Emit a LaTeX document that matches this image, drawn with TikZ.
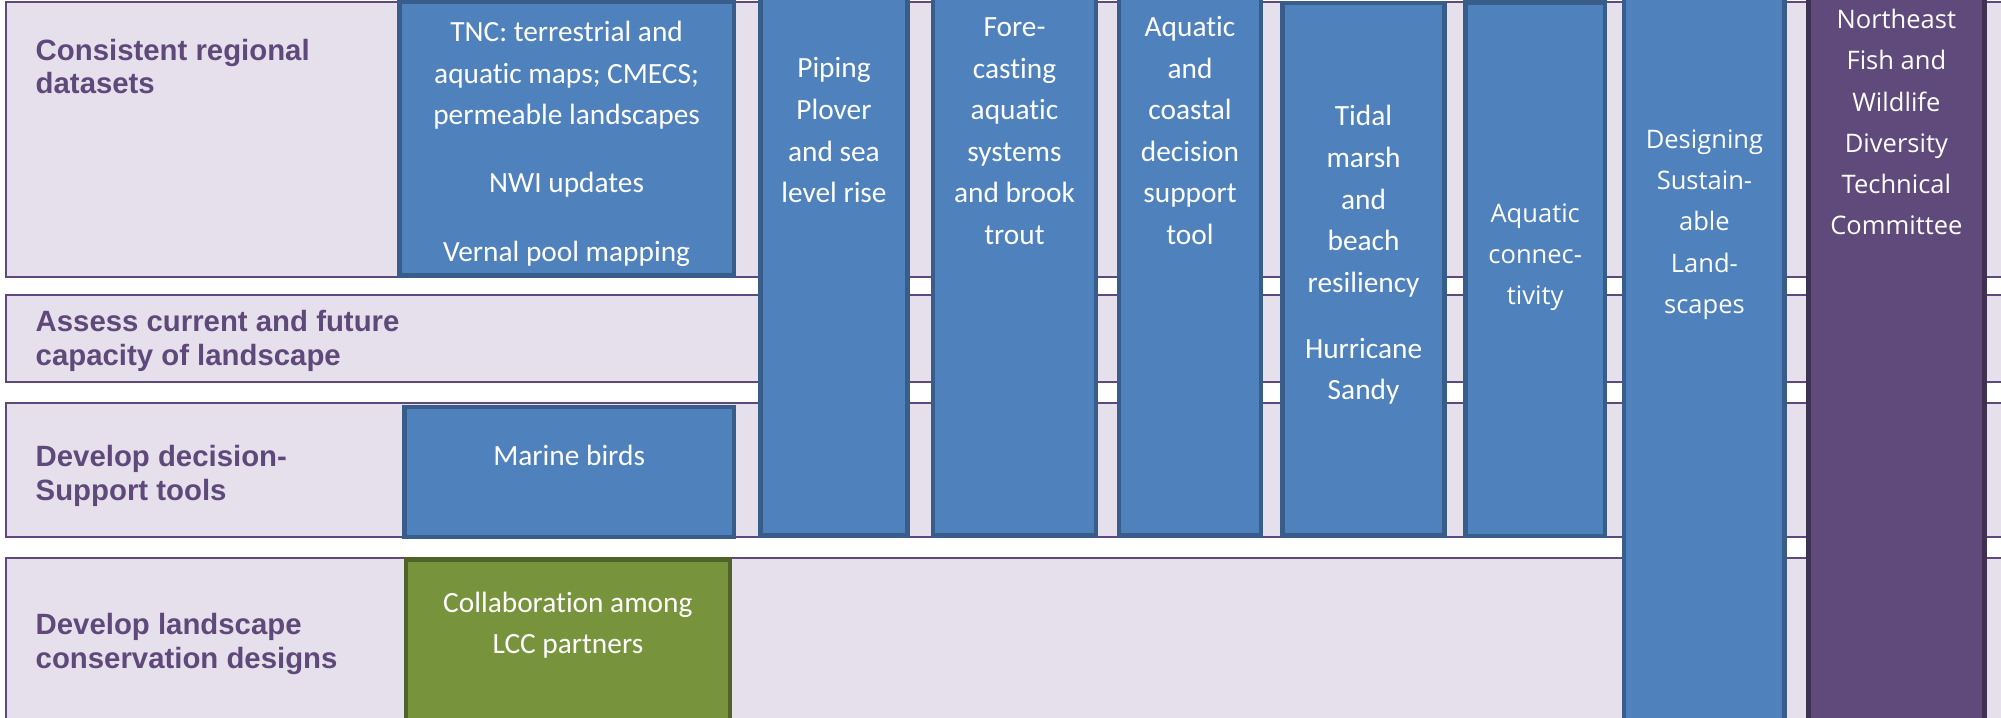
\documentclass[tikz,border=0pt]{standalone}
\usepackage{fontspec}
\setmainfont{Carlito}[Ligatures=NoCommon]
\newfontfamily\lblfont{Liberation Sans}
\newfontfamily\osfont{Open Sans}
\definecolor{bandfill}{HTML}{E6E0EC}
\definecolor{bandline}{HTML}{5F497A}
\definecolor{lbltext}{HTML}{5F497A}
\definecolor{bluefill}{HTML}{4F81BD}
\definecolor{blueline}{HTML}{385D8A}
\definecolor{greenfill}{HTML}{77933C}
\definecolor{greenline}{HTML}{4F6228}
\definecolor{purpfill}{HTML}{604A7B}
\definecolor{purpline}{HTML}{3F3151}
\begin{document}
\begin{tikzpicture}[x=1pt,y=-1pt,
  every node/.style={outer sep=0pt},
  band/.style={draw=bandline, fill=bandfill, line width=1.5pt, anchor=north west, inner sep=0pt},
  bluebox/.style={draw=blueline, fill=bluefill, line width=3.5pt, anchor=north west, inner sep=0pt},
  greenbox/.style={draw=greenline, fill=greenfill, line width=3.5pt, anchor=north west, inner sep=0pt},
  purpbox/.style={draw=purpline, fill=purpfill, line width=3.5pt, anchor=north west, inner sep=0pt},
  lbl/.style={anchor=west, inner sep=0pt, align=left, text=lbltext, font=\lblfont\bfseries\fontsize{23}{26.5}\selectfont},
  boxtxt/.style={inner sep=0pt, align=center, text=white, font=\fontsize{23}{32.6}\selectfont},
  wtxt/.style={inner sep=0pt, align=center, text=white, font=\osfont\fontsize{20}{32.3}\selectfont},
]
\useasboundingbox (0,0) rectangle (1568,562);
\clip (0,0) rectangle (1568,562);
\fill[white] (0,0) rectangle (1568,562);

% horizontal bands
\node[band, minimum width=1575.5pt, minimum height=215.5pt] (band1) at (4.5,1.5) {};
\node[band, minimum width=1575.5pt, minimum height=68pt] (band2) at (4.5,231) {};
\node[band, minimum width=1575.5pt, minimum height=105pt] (band3) at (4.5,316) {};
\node[band, minimum width=1575.5pt, minimum height=143pt] (band4) at (4.5,437) {};

% row labels
\node[lbl] (l1) at (28,55) {\strut Consistent regional\\datasets\strut};
\node[lbl] (l2) at (28,268) {\strut Assess current and future\\capacity of landscape\strut};
\node[lbl] (l3) at (28,373.5) {\strut Develop decision-\\Support tools\strut};
\node[lbl] (l4) at (28,505.5) {\strut Develop landscape\\conservation designs\strut};

% boxes
\node[bluebox, minimum width=262pt, minimum height=214.5pt] (tnc) at (313,1.5) {};
\node[bluebox, minimum width=258pt, minimum height=102pt] (marine) at (317,319) {};
\node[greenbox, minimum width=254pt, minimum height=151.5pt] (collab) at (318,438.5) {};
\node[bluebox, minimum width=115pt, minimum height=439.5pt] (piping) at (596,-20) {};
\node[bluebox, minimum width=128pt, minimum height=439.5pt] (fore) at (731,-20) {};
\node[bluebox, minimum width=111pt, minimum height=439.5pt] (aqc) at (877,-20) {};
\node[bluebox, minimum width=127pt, minimum height=417pt] (tidal) at (1005,2.5) {};
\node[bluebox, minimum width=109pt, minimum height=418pt] (aqconn) at (1148.5,2) {};
\node[bluebox, minimum width=126pt, minimum height=610pt] (design) at (1272.5,-20) {};
\node[purpbox, minimum width=138pt, minimum height=610pt] (nefw) at (1417,-20) {};

% box texts
\node[boxtxt] (tnc-t) at (444,112) {\strut TNC: terrestrial and\\aquatic maps; CMECS;\\permeable landscapes\\[20.8pt]NWI updates\\[20.8pt]Vernal pool mapping\strut};
\node[boxtxt] (marine-t) at (446,358) {\strut Marine birds\strut};
\node[boxtxt] (collab-t) at (445,489.5) {\strut Collaboration among\\LCC partners\strut};
\node[boxtxt] (piping-t) at (653.5,103.5) {\strut Piping\\Plover\\and sea\\level rise\strut};
\node[boxtxt] (fore-t) at (795,103.5) {\strut Fore-\\casting\\aquatic\\systems\\and brook\\trout\strut};
\node[boxtxt] (aqc-t) at (932.5,103.5) {\strut Aquatic\\and\\coastal\\decision\\support\\tool\strut};
\node[boxtxt] (tidal-t) at (1068.5,199.5) {\strut Tidal\\marsh\\and\\beach\\resiliency\\[19pt]Hurricane\\Sandy\strut};
\node[wtxt] (aqconn-t) at (1203,200) {\strut Aquatic\\connec-\\tivity\strut};
\node[wtxt] (design-t) at (1335.6,174.5) {\strut Designing\\Sustain-\\able\\Land-\\scapes\strut};
\node[wtxt] (nefw-t) at (1486,96.7) {\strut Northeast\\Fish and\\Wildlife\\Diversity\\Technical\\Committee\strut};
\end{tikzpicture}
\end{document}
